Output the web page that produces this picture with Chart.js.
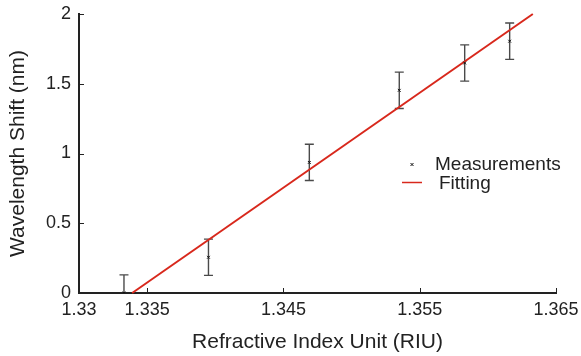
<!DOCTYPE html>
<html>
<head>
<meta charset="utf-8">
<script src="https://cdn.jsdelivr.net/npm/chart.js@4/dist/chart.umd.min.js"></script>
<style>
    html, body { margin: 0; padding: 0; background: #fff; }
    #wrap { width: 581px; height: 356px; position: relative; }
</style>
</head>
<body>
<div id="wrap"><canvas id="shiftChart"></canvas></div>
<script>
// Measured points (refractive index vs. wavelength shift) with their error
const refractiveIndex = [1.3333, 1.3395, 1.3469, 1.3535, 1.3583, 1.3616];
const wavelengthShift = [0.0, 0.256, 0.936, 1.453, 1.649, 1.805];
const shiftError = [0.13, 0.13, 0.13, 0.13, 0.13, 0.13];

// Linear fit end points
const fitIndex = [1.3339, 1.3633];
const fitShift = [0.0, 2.0];

// Axis ticks
const xTicks = [1.33, 1.335, 1.345, 1.355, 1.365];
const yTicks = [0, 0.5, 1, 1.5, 2];

const legendLabels = ['Measurements', 'Fitting'];

const FONT = "'Liberation Sans', Arial, Helvetica, sans-serif";
const INK = '#222';
const FIT_RED = '#d8281c';

// error bars, drawn under the fit line
const errorBars = {
    id: 'errorBars',
    beforeDatasetsDraw(chart) {
        const ctx = chart.ctx;
        const x = chart.scales.x, y = chart.scales.y;
        const area = chart.chartArea;
        ctx.save();
        ctx.beginPath();
        ctx.rect(area.left, area.top - 2, area.right - area.left, area.bottom - area.top + 2);
        ctx.clip();
        ctx.strokeStyle = '#4a4a4a';
        ctx.lineWidth = 1.4;
        refractiveIndex.forEach((v, i) => {
            const px = x.getPixelForValue(v);
            const top = y.getPixelForValue(wavelengthShift[i] + shiftError[i]);
            const bot = y.getPixelForValue(wavelengthShift[i] - shiftError[i]);
            ctx.beginPath();
            ctx.moveTo(px, top); ctx.lineTo(px, bot);
            ctx.moveTo(px - 4.5, top); ctx.lineTo(px + 4.5, top);
            ctx.moveTo(px - 4.5, bot); ctx.lineTo(px + 4.5, bot);
            ctx.stroke();
        });
        ctx.restore();
    }
};

// inward tick marks + the in-plot legend
const decorations = {
    id: 'decorations',
    afterDraw(chart) {
        const ctx = chart.ctx;
        const x = chart.scales.x, y = chart.scales.y;
        const area = chart.chartArea;
        ctx.save();
        ctx.strokeStyle = INK;
        ctx.lineWidth = 1;
        ctx.beginPath();
        xTicks.forEach(v => {
            const px = Math.round(x.getPixelForValue(v)) + 0.5;
            ctx.moveTo(px, area.bottom);
            ctx.lineTo(px, area.bottom - 5);
        });
        yTicks.forEach(v => {
            const py = Math.round(y.getPixelForValue(v)) + 0.5;
            ctx.moveTo(area.left, py);
            ctx.lineTo(area.left + 5, py);
        });
        ctx.stroke();

        // legend
        const lx = area.right - 144;
        const ly = area.top + 150.5;
        ctx.strokeStyle = '#111';
        ctx.lineWidth = 1;
        ctx.beginPath();
        ctx.moveTo(lx - 1.5, ly - 1.5); ctx.lineTo(lx + 1.5, ly + 1.5);
        ctx.moveTo(lx - 1.5, ly + 1.5); ctx.lineTo(lx + 1.5, ly - 1.5);
        ctx.stroke();
        ctx.strokeStyle = FIT_RED;
        ctx.lineWidth = 1.5;
        ctx.beginPath();
        ctx.moveTo(lx - 10, ly + 18); ctx.lineTo(lx + 10, ly + 18);
        ctx.stroke();

        ctx.fillStyle = INK;
        ctx.font = '19px ' + FONT;
        ctx.textBaseline = 'middle';
        ctx.textAlign = 'left';
        ctx.fillText(legendLabels[0], lx + 23, ly);
        ctx.fillText(legendLabels[1], lx + 27, ly + 19);
        ctx.restore();
    }
};

// keep the plot box where the reference has it
function noLabelPadding(scale) {
    scale.paddingLeft = 0;
    scale.paddingRight = 0;
    scale.paddingTop = 0;
    scale.paddingBottom = 0;
}

const ctx = document.getElementById('shiftChart').getContext('2d');

new Chart(ctx, {
    type: 'scatter',
    data: {
        datasets: [
            {
                label: legendLabels[0],
                data: refractiveIndex.map((v, i) => ({ x: v, y: wavelengthShift[i] })),
                pointStyle: 'crossRot',
                pointRadius: 2,
                borderColor: '#111',
                borderWidth: 1,
                showLine: false
            },
            {
                label: legendLabels[1],
                type: 'line',
                data: fitIndex.map((v, i) => ({ x: v, y: fitShift[i] })),
                borderColor: FIT_RED,
                borderWidth: 2,
                pointRadius: 0,
                fill: false,
                clip: false
            }
        ]
    },
    options: {
        responsive: true,
        maintainAspectRatio: false,
        animation: false,
        layout: { padding: { left: 0, right: 25, top: 14, bottom: 0 } },
        plugins: {
            legend: { display: false },
            tooltip: { enabled: false }
        },
        scales: {
            x: {
                type: 'linear',
                min: 1.33,
                max: 1.365,
                afterBuildTicks: scale => { scale.ticks = xTicks.map(v => ({ value: v })); },
                afterFit: scale => { scale.height = 63; noLabelPadding(scale); },
                grid: { drawOnChartArea: false, drawTicks: false },
                border: { display: true, color: INK, width: 2 },
                ticks: {
                    color: INK,
                    font: { family: FONT, size: 18 },
                    padding: 6,
                    maxRotation: 0,
                    autoSkip: false,
                    callback: v => String(+v.toFixed(3))
                },
                title: {
                    display: true,
                    text: 'Refractive Index Unit (RIU)',
                    color: INK,
                    font: { family: FONT, size: 21 },
                    padding: { top: 0, bottom: 1 }
                }
            },
            y: {
                type: 'linear',
                min: 0,
                max: 2,
                afterBuildTicks: scale => { scale.ticks = yTicks.map(v => ({ value: v })); },
                afterFit: scale => { scale.width = 79; noLabelPadding(scale); },
                grid: { drawOnChartArea: false, drawTicks: false },
                border: { display: true, color: INK, width: 2 },
                ticks: {
                    color: INK,
                    font: { family: FONT, size: 18 },
                    padding: 8,
                    callback: v => String(v)
                },
                title: {
                    display: true,
                    text: 'Wavelength Shift (nm)',
                    color: INK,
                    font: { family: FONT, size: 21 },
                    padding: { top: 6, bottom: 0 }
                }
            }
        }
    },
    plugins: [errorBars, decorations]
});
</script>
</body>
</html>
